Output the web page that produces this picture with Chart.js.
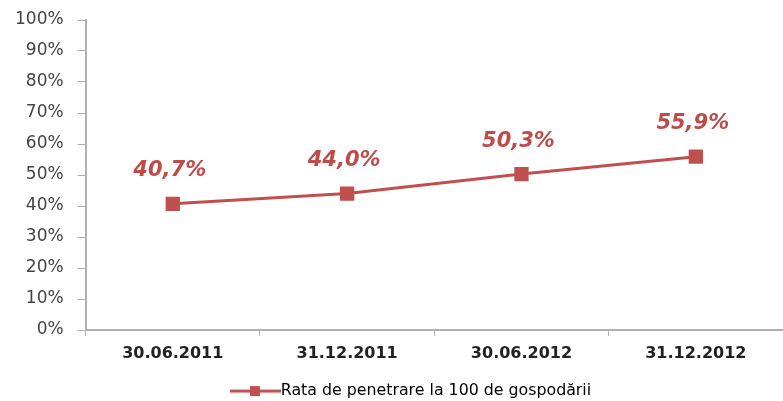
<!DOCTYPE html>
<html>
<head>
<meta charset="utf-8">
<script src="https://cdn.jsdelivr.net/npm/chart.js@4/dist/chart.umd.min.js"></script>
<style>
  html, body { margin: 0; padding: 0; background: #fff; }
  #wrap { width: 783px; height: 401px; }
</style>
</head>
<body>
<div id="wrap"><canvas id="chart" width="783" height="401"></canvas></div>
<script>
const dates = ['30.06.2011', '31.12.2011', '30.06.2012', '31.12.2012'];
const rates = [40.7, 44.0, 50.3, 55.9];
const seriesName = 'Rata de penetrare la 100 de gospodării';

const red = '#C0504D';

// legend marker: line with a small square, drawn in the right part of a wide box
// so that it sits right next to the text like in the original
function legendMarker() {
  const c = document.createElement('canvas');
  c.width = 96; c.height = 12;
  const g = c.getContext('2d');
  g.strokeStyle = red;
  g.lineWidth = 3;
  g.beginPath();
  g.moveTo(45, 6);
  g.lineTo(96, 6);
  g.stroke();
  g.fillStyle = red;
  g.fillRect(65, 1, 10, 10);
  return c;
}

// value labels above points
const valueLabels = {
  id: 'valueLabels',
  afterDatasetsDraw(chart) {
    const ctx = chart.ctx;
    const meta = chart.getDatasetMeta(0);
    ctx.save();
    ctx.font = 'italic bold 21px "DejaVu Sans"';
    ctx.fillStyle = '#BE4B48';
    ctx.textAlign = 'center';
    ctx.textBaseline = 'middle';
    meta.data.forEach((pt, i) => {
      const txt = rates[i].toFixed(1).replace('.', ',') + '%';
      ctx.fillText(txt, pt.x - 3, pt.y - 33);
    });
    ctx.restore();
  }
};

new Chart(document.getElementById('chart'), {
  type: 'line',
  data: {
    labels: dates,
    datasets: [{
      label: seriesName,
      data: rates,
      borderColor: red,
      backgroundColor: red,
      borderWidth: 3,
      pointStyle: 'rect',
      pointRadius: 8,
      pointHoverRadius: 8,
      tension: 0
    }]
  },
  options: {
    responsive: false,
    animation: false,
    layout: { autoPadding: false, padding: { top: 20, right: 0, left: 1, bottom: -8 } },
    plugins: {
      tooltip: { enabled: false },
      legend: {
        position: 'bottom',
        labels: {
          usePointStyle: true,
          pointStyleWidth: 80,
          font: { family: '"DejaVu Sans"', size: 15.8 },
          color: '#333',
          padding: 3,
          generateLabels: () => [{
            text: seriesName,
            pointStyle: legendMarker(),
            fillStyle: red,
            strokeStyle: red,
            lineWidth: 0,
            datasetIndex: 0
          }]
        }
      }
    },
    scales: {
      x: {
        offset: true,
        afterFit: scale => { scale.height += 9; },
        grid: {
          offset: true,
          drawOnChartArea: false,
          drawTicks: true,
          tickLength: 6,
          color: '#b0b0b0'
        },
        border: { color: '#b0b0b0', width: 2 },
        ticks: {
          color: '#222',
          font: { family: '"DejaVu Sans"', size: 16, weight: 'bold' },
          padding: 8
        }
      },
      y: {
        min: 0,
        max: 100,
        afterFit: scale => { scale.paddingTop = 0; },
        grid: {
          drawOnChartArea: false,
          drawTicks: true,
          tickLength: 8,
          color: '#b0b0b0'
        },
        border: { color: '#b0b0b0', width: 2 },
        ticks: {
          stepSize: 10,
          color: '#444',
          font: { family: '"DejaVu Sans"', size: 17 },
          padding: 14,
          callback: v => v + '%'
        }
      }
    }
  },
  plugins: [valueLabels]
});
</script>
</body>
</html>
